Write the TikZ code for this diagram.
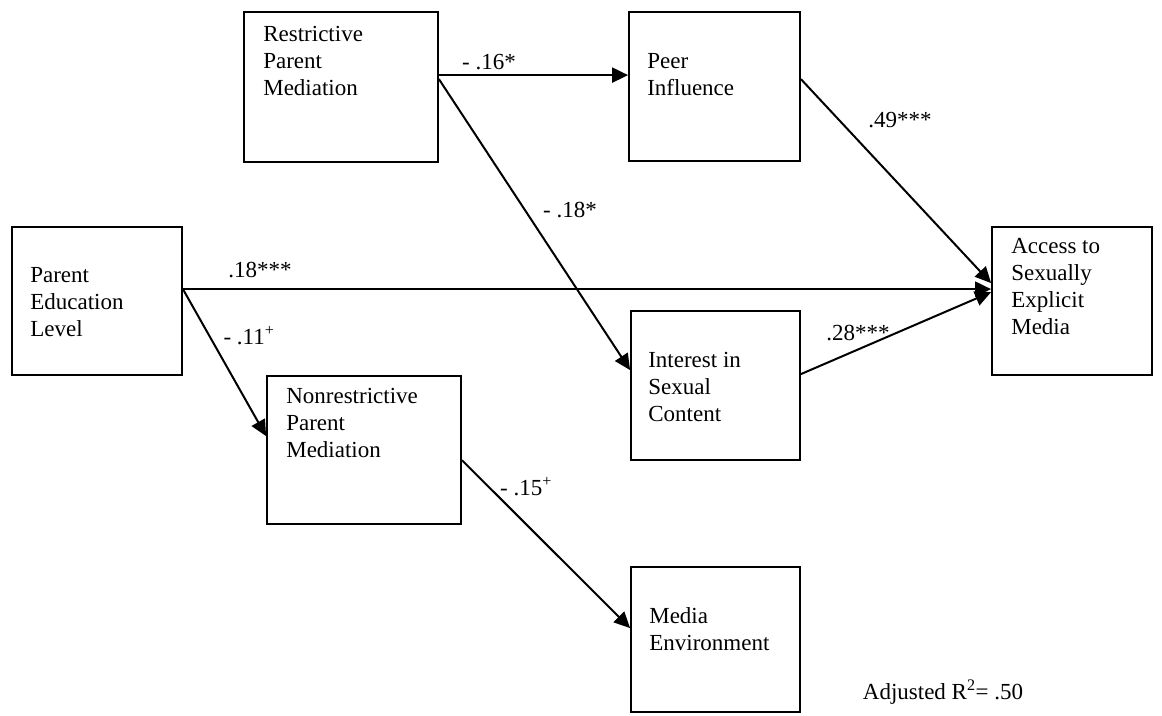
\documentclass[tikz,border=0pt]{standalone}
\usepackage{fontspec}
\setmainfont{Liberation Serif}
\usetikzlibrary{arrows.meta,calc}
\begin{document}
\begin{tikzpicture}[x=1pt,y=-1pt,
  box/.style={draw,line width=1.8pt,rectangle,inner sep=0pt},
  boxtext/.style={anchor=north west,inner sep=0pt,align=left,font=\fontsize{23}{27}\selectfont},
  lab/.style={inner sep=0pt,font=\fontsize{23}{27}\selectfont},
  arr/.style={line width=2pt,-{Triangle[length=16pt,width=15pt]}}]
\useasboundingbox (0,0) rectangle (1162,715);
% boxes
\node[box,minimum width=194pt,minimum height=150pt] (rpm) at (341,87) {};
\node[box,minimum width=171pt,minimum height=149pt] (peer) at (714.5,86.5) {};
\node[box,minimum width=170pt,minimum height=148pt] (ped) at (97,301) {};
\node[box,minimum width=160pt,minimum height=148pt] (acc) at (1072,301) {};
\node[box,minimum width=169pt,minimum height=149pt] (int) at (715.5,385.5) {};
\node[box,minimum width=194pt,minimum height=148pt] (nrp) at (364,450) {};
\node[box,minimum width=169pt,minimum height=145pt] (med) at (715.5,639.5) {};
% box texts
\node[boxtext] (trpm) at ($(rpm.north west)+(20,15)$) {Restrictive\\Parent\\Mediation};
\node[boxtext] (tpeer) at ($(peer.north west)+(19,42)$) {Peer\\Influence};
\node[boxtext] (tped) at ($(ped.north west)+(19,41)$) {Parent\\Education\\Level};
\node[boxtext] (tacc) at ($(acc.north west)+(20,12)$) {Access to\\Sexually\\Explicit\\Media};
\node[boxtext] (tint) at ($(int.north west)+(18,42)$) {Interest in\\Sexual\\Content};
\node[boxtext] (tnrp) at ($(nrp.north west)+(20,13)$) {Nonrestrictive\\Parent\\Mediation};
\node[boxtext] (tmed) at ($(med.north west)+(19,41)$) {Media\\Environment};
% connector end points
\coordinate (s1) at ($(rpm.north east)+(0,64)$);
\coordinate (s2) at ($(rpm.north east)+(0,68)$);
\coordinate (e2) at ($(int.north west)+(0,60)$);
\coordinate (s3) at ($(ped.north east)+(0,63)$);
\coordinate (e4) at ($(nrp.north west)+(0,61)$);
\coordinate (s5) at ($(nrp.north east)+(0,85)$);
\coordinate (e5) at ($(med.north west)+(0,62)$);
\coordinate (s6) at ($(peer.north east)+(0,68)$);
\coordinate (e6) at ($(acc.north west)+(0,57)$);
\coordinate (s7) at ($(int.north east)+(0,64)$);
\coordinate (e7) at ($(acc.north west)+(0,66)$);
% paths
\draw[arr] (s1) -- (s1 -| peer.west);
\draw[arr] (s2) -- (e2);
\draw[arr] (s3) -- (s3 -| acc.west);
\draw[arr] (s3) -- (e4);
\draw[arr] (s5) -- (e5);
\draw[arr] (s6) -- (e6);
\draw[arr] (s7) -- (e7);
% coefficients
\node[lab] (c16) at (489,62) {- .16*};
\node[lab] (c18a) at (570,210) {- .18*};
\node[lab] (c18b) at (260,270) {.18***};
\node[lab] (c11) at (249,336) {- .11\textsuperscript{+}};
\node[lab] (c15) at (526,487) {- .15\textsuperscript{+}};
\node[lab] (c49) at (900,120) {.49***};
\node[lab] (c28) at (858,333) {.28***};
\node[lab] (r2) at (943,692) {Adjusted R\textsuperscript{2}= .50};
\end{tikzpicture}
\end{document}
